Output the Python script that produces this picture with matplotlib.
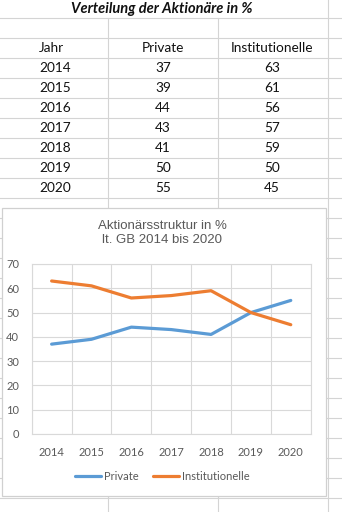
import matplotlib
matplotlib.use('Agg')
import matplotlib.pyplot as plt
from matplotlib.patches import Rectangle

# data
years = ['2014', '2015', '2016', '2017', '2018', '2019', '2020']
private = [37, 39, 44, 43, 41, 50, 55]
institutionelle = [63, 61, 56, 57, 59, 50, 45]

sheet_title = 'Verteilung der Aktionäre in %'
headers = ['Jahr', 'Private', 'Institutionelle']
chart_title = 'Aktionärsstruktur in %\nlt. GB 2014 bis 2020'

W, H = 342, 512
fig = plt.figure(figsize=(W / 100, H / 100), dpi=100)
fig.patch.set_facecolor('white')

# --- spreadsheet background (pixel coordinates) ---
bg = fig.add_axes([0, 0, 1, 1])
bg.set_xlim(0, W)
bg.set_ylim(H, 0)
bg.axis('off')

grid_col = '#D4D4D4'
for k in range(25):
    y = 17.5 + 20 * k
    bg.plot([0, W], [y, y], color=grid_col, lw=0.8)
for x in [107.5, 217.5]:
    bg.plot([x, x], [17.5, H], color=grid_col, lw=0.8)
bg.plot([327.5, 327.5], [0, H], color=grid_col, lw=0.8)

table_font = 'Lato'
fs = 9.8
bg.text(162, 8.5, sheet_title, ha='center', va='center', fontsize=10.5,
        fontweight='bold', style='italic', family=table_font, color='#111111')

bg.text(39, 47.5, headers[0], ha='left', va='center', fontsize=fs, family=table_font, color='#111111')
bg.text(163, 47.5, headers[1], ha='center', va='center', fontsize=fs, family=table_font, color='#111111')
bg.text(272, 47.5, headers[2], ha='center', va='center', fontsize=fs, family=table_font, color='#111111')
for i, yr in enumerate(years):
    y = 67.5 + 20 * i
    bg.text(39, y, yr, ha='left', va='center', fontsize=fs, family=table_font, color='#111111')
    bg.text(163, y, str(private[i]), ha='center', va='center', fontsize=fs, family=table_font, color='#111111')
    bg.text(272, y, str(institutionelle[i]), ha='center', va='center', fontsize=fs, family=table_font, color='#111111')

# chart box
bg.add_patch(Rectangle((1.5, 207.5), 324, 288, facecolor='white', edgecolor='#D0D0D0', lw=0.9, zorder=5))
bg.text(162, 233, chart_title, ha='center', va='center', fontsize=9.5,
        family='Liberation Sans', color='#595959', linespacing=1.15, zorder=6)

# --- chart ---
left, right, top, bottom = 31.7, 310.7, 264, 434
ax = fig.add_axes([left / W, 1 - bottom / H, (right - left) / W, (bottom - top) / H])
ax.set_facecolor('none')
x = range(len(years))
ax.plot(x, private, color='#5B9BD5', lw=2.3, label='Private', solid_capstyle='round')
ax.plot(x, institutionelle, color='#ED7D31', lw=2.3, label='Institutionelle', solid_capstyle='round')

ax.set_xlim(-0.5, len(years) - 0.5)
ax.set_ylim(0, 70)
ax.set_yticks(range(0, 71, 10))
ax.set_xticks(list(x))
ax.set_xticklabels(years)
ax.set_xticks([i - 0.5 for i in range(len(years) + 1)], minor=True)
ax.grid(axis='y', which='major', color='#D9D9D9', lw=0.8)
ax.grid(axis='x', which='minor', color='#D9D9D9', lw=0.8)
ax.grid(axis='x', which='major', visible=False)
ax.set_axisbelow(True)
for s in ax.spines.values():
    s.set_color('#D9D9D9')
    s.set_linewidth(0.8)
ax.tick_params(which='both', length=0)
ax.tick_params(axis='x', pad=9)
ax.tick_params(axis='y', pad=9)
for lab in ax.get_xticklabels() + ax.get_yticklabels():
    lab.set_fontfamily('Lato')
    lab.set_fontsize(8)
    lab.set_color('#595959')

leg = ax.legend(loc='center', bbox_to_anchor=(162 / W, 1 - 476 / H), bbox_transform=fig.transFigure,
                ncol=2, frameon=False, handlelength=2.4, handletextpad=0.2, columnspacing=1.3,
                prop={'family': 'Lato', 'size': 8})
for t in leg.get_texts():
    t.set_color('#595959')

fig.savefig('out.png', dpi=100)
